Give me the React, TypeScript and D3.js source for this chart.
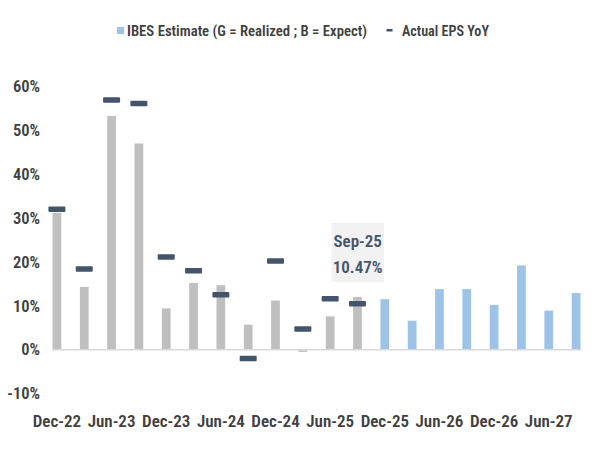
import React from "react";
import * as d3 from "d3";

const categories = [
  "Dec-22", "Mar-23", "Jun-23", "Sep-23", "Dec-23", "Mar-24", "Jun-24", "Sep-24",
  "Dec-24", "Mar-25", "Jun-25", "Sep-25", "Dec-25", "Mar-26", "Jun-26", "Sep-26",
  "Dec-26", "Mar-27", "Jun-27", "Sep-27",
];
// IBES estimate (%) — first 12 realized (gray), rest expected (blue)
const ibesEstimate = [
  31.2, 14.3, 53.3, 47.0, 9.4, 15.2, 14.7, 5.7, 11.2, -0.5, 7.6, 12.0,
  11.5, 6.6, 13.8, 13.8, 10.2, 19.2, 8.9, 12.9,
];
const realizedCount = 12;
// Actual EPS YoY (%)
const actualEps: (number | null)[] = [
  32.0, 18.4, 56.9, 56.1, 21.1, 18.0, 12.5, -2.0, 20.2, 4.7, 11.6, 10.47,
  null, null, null, null, null, null, null, null,
];
const yTicks = [-10, 0, 10, 20, 30, 40, 50, 60];
const xTickLabels = ["Dec-22", "Jun-23", "Dec-23", "Jun-24", "Dec-24", "Jun-25", "Dec-25", "Jun-26", "Dec-26", "Jun-27"];
const legendLabels = ["IBES Estimate (G = Realized ; B = Expect)", "Actual EPS YoY"];
const annotation = { category: "Sep-25", label: "Sep-25", value: "10.47%" };

const FONT = "'Liberation Sans Narrow', 'Roboto Condensed', 'Arial Narrow', sans-serif";
const GRAY = "#bfbfbf";
const BLUE = "#9dc3e6";
const NAVY = "#44546a";
const TEXT = "#404040";

export default function App() {
  const width = 600;
  const height = 450;
  const x = d3.scaleBand<string>().domain(categories).range([52, 581]).paddingInner(0.68).paddingOuter(0.02);
  const y = d3.scaleLinear().domain([-10, 60]).range([393.5, 86.5]);
  const bw = x.bandwidth();
  const cx = (c: string) => (x(c) as number) + bw / 2;
  const markerW = 17;
  const markerH = 5.5;

  return (
    <svg width={width} height={height} style={{ position: "absolute", left: 0, top: 0, background: "#fff" }} fontFamily={FONT}>
      {/* legend */}
      <g>
        <rect x={117} y={27} width={7} height={7} fill={BLUE} />
        <text x={127} y={36} fontSize={15} fill={TEXT} fontWeight={600} textLength={240} lengthAdjust="spacingAndGlyphs">{legendLabels[0]}</text>
        <rect x={386.5} y={29} width={6} height={2.5} fill={NAVY} />
        <text x={402} y={36} fontSize={15} fill={TEXT} fontWeight={600} textLength={87} lengthAdjust="spacingAndGlyphs">{legendLabels[1]}</text>
      </g>
      {/* y axis labels */}
      {yTicks.map((t) => (
        <text key={t} x={40} y={y(t)} dy="0.35em" textAnchor="end" fontSize={16.5} fill={TEXT} fontWeight={600}>
          {`${t}%`}
        </text>
      ))}
      {/* bars */}
      {categories.map((c, i) => {
        const v = ibesEstimate[i];
        return (
          <rect
            key={c}
            x={x(c)}
            y={Math.min(y(v), y(0))}
            width={bw}
            height={Math.abs(y(v) - y(0))}
            fill={i < realizedCount ? GRAY : BLUE}
          />
        );
      })}
      {/* zero axis line */}
      <line x1={52} x2={581} y1={y(0)} y2={y(0)} stroke="#d9d9d9" strokeWidth={1.5} />
      {/* actual markers */}
      {categories.map((c, i) => {
        const v = actualEps[i];
        if (v == null) return null;
        return (
          <rect key={c} x={cx(c) - markerW / 2} y={y(v) - markerH / 2} width={markerW} height={markerH} rx={1} fill={NAVY} />
        );
      })}
      {/* annotation */}
      <g>
        <rect x={331.5} y={223} width={52.5} height={59} fill="#f2f2f2" />
        <text x={357.7} y={241} dy="0.35em" textAnchor="middle" fontSize={17} fill={NAVY} fontWeight={600}>{annotation.label}</text>
        <text x={357.7} y={266.7} dy="0.35em" textAnchor="middle" fontSize={17} fill={NAVY} fontWeight={600}>{annotation.value}</text>
      </g>
      {/* x labels */}
      {xTickLabels.map((c) => (
        <text key={c} x={cx(c)} y={421} dy="0.35em" textAnchor="middle" fontSize={17} fill={TEXT} fontWeight={600}>
          {c}
        </text>
      ))}
    </svg>
  );
}
